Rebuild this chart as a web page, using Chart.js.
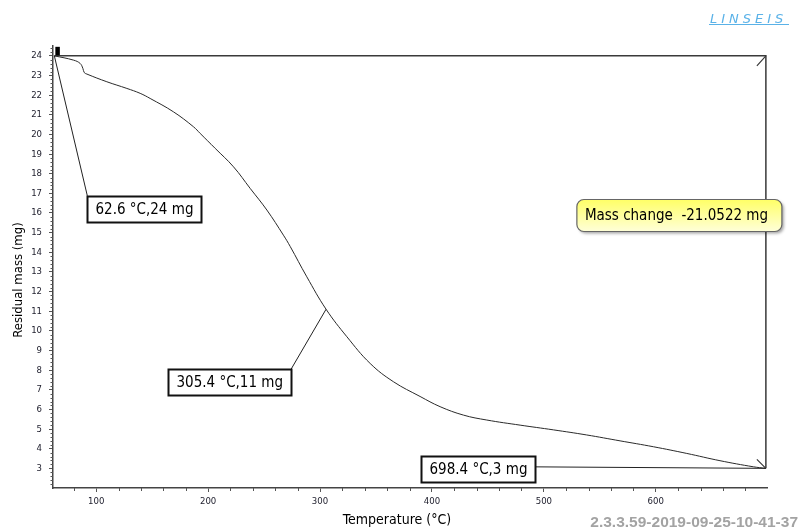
<!DOCTYPE html>
<html>
<head>
<meta charset="utf-8">
<script src="https://cdn.jsdelivr.net/npm/chart.js@4"></script>
<style>
  html, body { margin: 0; padding: 0; background: #fff; }
  #wrap { width: 808px; height: 529px; }
</style>
</head>
<body>
<div id="wrap"><canvas id="tgaChart" width="808" height="529"></canvas></div>
<script>
// TGA curve
const temperature = [62.6, 79.8, 85.7, 88.1, 89.3, 91.7, 109.5, 127.4, 139.3, 148.2, 169, 186.9, 192.9,
  206.3, 222.7, 237.6, 252.5, 267.3, 273.3, 288.2, 305.4, 324, 344.8, 365.6, 389.4, 407.3, 428.2,
  449, 478.8, 508.5, 538.3, 568.1, 597.9, 627.7, 657.4, 687.2, 698.4];
const residualMass = [24.0, 23.78, 23.61, 23.36, 23.15, 23.07, 22.68, 22.34, 22.09, 21.83, 21.15, 20.39, 20.05,
  19.29, 18.35, 17.25, 16.15, 14.87, 14.3, 12.75, 11.1, 9.70, 8.34, 7.41, 6.66, 6.14, 5.71,
  5.46, 5.20, 4.96, 4.70, 4.40, 4.10, 3.76, 3.39, 3.08, 3.0];

const xTickValues = [100, 200, 300, 400, 500, 600];
const yTickValues = [3, 4, 5, 6, 7, 8, 9, 10, 11, 12, 13, 14, 15, 16, 17, 18, 19, 20, 21, 22, 23, 24];

// cursor markers
const markerTemps = [62.6, 305.4, 698.4];
const markerMass = [24, 11.1, 3];
const markerLabels = ['62.6 °C,24 mg', '305.4 °C,11 mg', '698.4 °C,3 mg'];

const massChangeText = 'Mass change  -21.0522 mg';
const xAxisTitle = 'Temperature (°C)';
const yAxisTitle = 'Residual mass (mg)';
const versionText = '2.3.3.59-2019-09-25-10-41-37';
const logoText = 'LINSEIS';

const uiFont = '"DejaVu Sans Condensed", "Liberation Sans", sans-serif';

/* -----------------------------
   Extra drawing: minor ticks, cursors, labels
------------------------------ */
const tgaDecor = {
  id: 'tgaDecor',
  afterDraw(chart) {
    const ctx = chart.ctx;
    const xs = chart.scales.x;
    const ys = chart.scales.y;
    const area = chart.chartArea;
    ctx.save();

    // minor ticks
    ctx.strokeStyle = '#555';
    ctx.lineWidth = 1;
    ctx.beginPath();
    for (let v = 80; v <= 680; v += 20) {
      if (v % 100 === 0) continue;
      const px = Math.round(xs.getPixelForValue(v)) + 0.5;
      ctx.moveTo(px, area.bottom);
      ctx.lineTo(px, area.bottom + 3);
    }
    for (let i = 11; i <= 122; i++) {
      if (i % 5 === 0) continue;
      const py = Math.round(ys.getPixelForValue(i / 5)) + 0.5;
      ctx.moveTo(area.left, py);
      ctx.lineTo(area.left - 2.5, py);
    }
    ctx.stroke();

    const pts = markerTemps.map((t, i) => ({
      x: xs.getPixelForValue(t),
      y: ys.getPixelForValue(markerMass[i])
    }));

    // mass change measurement lines
    const pStart = pts[0], pEnd = pts[2];
    ctx.strokeStyle = '#3a3a3a';
    ctx.lineWidth = 1.5;
    ctx.beginPath();
    ctx.moveTo(pStart.x, pStart.y);
    ctx.lineTo(pEnd.x, pStart.y);
    ctx.lineTo(pEnd.x, pEnd.y);
    ctx.stroke();
    ctx.lineWidth = 1.2;
    ctx.beginPath();
    ctx.moveTo(pEnd.x - 9, pStart.y + 10);
    ctx.lineTo(pEnd.x, pStart.y);
    ctx.moveTo(pEnd.x - 9, pEnd.y - 9);
    ctx.lineTo(pEnd.x, pEnd.y);
    ctx.stroke();

    // start cursor block
    ctx.fillStyle = '#000';
    ctx.fillRect(pStart.x + 1, pStart.y - 9, 4.5, 8.5);

    // cursor labels
    ctx.font = '15px ' + uiFont;
    ctx.textBaseline = 'middle';
    ctx.textAlign = 'left';
    const boxH = 26;
    markerLabels.forEach((txt, i) => {
      const p = pts[i];
      const w = Math.round(ctx.measureText(txt).width + 16);
      let left, top, lx, ly;
      if (i === 0) {
        left = p.x + 33; top = p.y + 140; lx = left; ly = top;
      } else if (i === 1) {
        left = p.x - 35 - w; top = p.y + 60; lx = left + w; ly = top;
      } else {
        left = p.x - 231 - w; top = p.y - 12; lx = left + w; ly = top + 10.5;
      }
      left = Math.round(left) + 0.5;
      top = Math.round(top) + 0.5;
      ctx.strokeStyle = '#222';
      ctx.lineWidth = 1;
      ctx.beginPath();
      ctx.moveTo(p.x, p.y);
      ctx.lineTo(lx, ly);
      ctx.stroke();
      ctx.fillStyle = '#fff';
      ctx.fillRect(left, top, w, boxH);
      ctx.strokeStyle = '#111';
      ctx.lineWidth = 2;
      ctx.strokeRect(left, top, w, boxH);
      ctx.fillStyle = '#000';
      ctx.fillText(txt, left + 8, top + boxH / 2 + 1);
    });

    // mass change tooltip box
    const bx = pEnd.x - 189, by = area.top + 153.5, bw = 205, bh = 32;
    ctx.save();
    ctx.shadowColor = 'rgba(0,0,0,0.35)';
    ctx.shadowOffsetX = 2;
    ctx.shadowOffsetY = 2;
    ctx.shadowBlur = 3;
    const grad = ctx.createLinearGradient(0, by, 0, by + bh);
    grad.addColorStop(0, '#ffff66');
    grad.addColorStop(1, '#ffffd8');
    ctx.fillStyle = grad;
    ctx.beginPath();
    ctx.roundRect(bx, by, bw, bh, 7);
    ctx.fill();
    ctx.restore();
    ctx.strokeStyle = '#666';
    ctx.lineWidth = 1.2;
    ctx.beginPath();
    ctx.roundRect(bx, by, bw, bh, 7);
    ctx.stroke();
    ctx.fillStyle = '#000';
    ctx.font = '15px ' + uiFont;
    ctx.fillText(massChangeText, bx + 8, by + bh / 2 + 1);

    // axis titles
    ctx.fillStyle = '#000';
    ctx.textAlign = 'center';
    ctx.font = '14px ' + uiFont;
    ctx.fillText(xAxisTitle, 397, 520);
    ctx.font = '13px ' + uiFont;
    ctx.save();
    ctx.translate(19, 280);
    ctx.rotate(-Math.PI / 2);
    ctx.fillText(yAxisTitle, 0, 0);
    ctx.restore();

    // version stamp
    ctx.font = 'bold 15.5px "Liberation Sans", Arial, sans-serif';
    ctx.fillStyle = '#a3a3a3';
    ctx.textAlign = 'right';
    ctx.textBaseline = 'alphabetic';
    ctx.fillText(versionText, 798, 527);

    // logo
    ctx.font = 'italic 300 13px "DejaVu Sans", sans-serif';
    ctx.fillStyle = '#5ab2e8';
    ctx.textAlign = 'left';
    ctx.letterSpacing = '4px';
    ctx.fillText(logoText, 710, 23);
    ctx.letterSpacing = '0px';
    ctx.strokeStyle = '#5ab2e8';
    ctx.lineWidth = 1;
    ctx.beginPath();
    ctx.moveTo(709, 24.5);
    ctx.lineTo(789, 24.5);
    ctx.stroke();

    ctx.restore();
  }
};

/* -----------------------------
   Chart
------------------------------ */
const ctx = document.getElementById('tgaChart').getContext('2d');
const chart = new Chart(ctx, {
  type: 'line',
  data: {
    datasets: [{
      label: 'Residual mass',
      data: temperature.map((t, i) => ({ x: t, y: residualMass[i] })),
      borderColor: '#2a2a2a',
      borderWidth: 1,
      pointRadius: 0,
      fill: false,
      tension: 0.4
    }]
  },
  options: {
    responsive: false,
    animation: false,
    layout: { padding: { top: 46, right: 41, left: 0, bottom: 0 } },
    plugins: {
      legend: { display: false },
      tooltip: { enabled: false }
    },
    scales: {
      x: {
        type: 'linear',
        min: 61.4,
        max: 699.4,
        afterFit: s => { s.height = 41; },
        afterBuildTicks: s => { s.ticks = xTickValues.map(v => ({ value: v })); },
        grid: { drawOnChartArea: false, tickLength: 4, tickColor: '#555', tickWidth: 1 },
        border: { display: true, color: '#444', width: 1.5 },
        ticks: {
          autoSkip: false,
          maxRotation: 0,
          padding: 4,
          color: '#222230',
          font: { family: uiFont, size: 9.5 }
        }
      },
      y: {
        min: 2,
        max: 24.5,
        afterFit: s => { s.width = 53; },
        afterBuildTicks: s => { s.ticks = yTickValues.map(v => ({ value: v })); },
        grid: { drawOnChartArea: false, tickLength: 4, tickColor: '#555', tickWidth: 1 },
        border: { display: true, color: '#444', width: 1.5 },
        ticks: {
          autoSkip: false,
          padding: 7,
          color: '#222230',
          font: { family: uiFont, size: 9.5 }
        }
      }
    }
  },
  plugins: [tgaDecor]
});
</script>
</body>
</html>
